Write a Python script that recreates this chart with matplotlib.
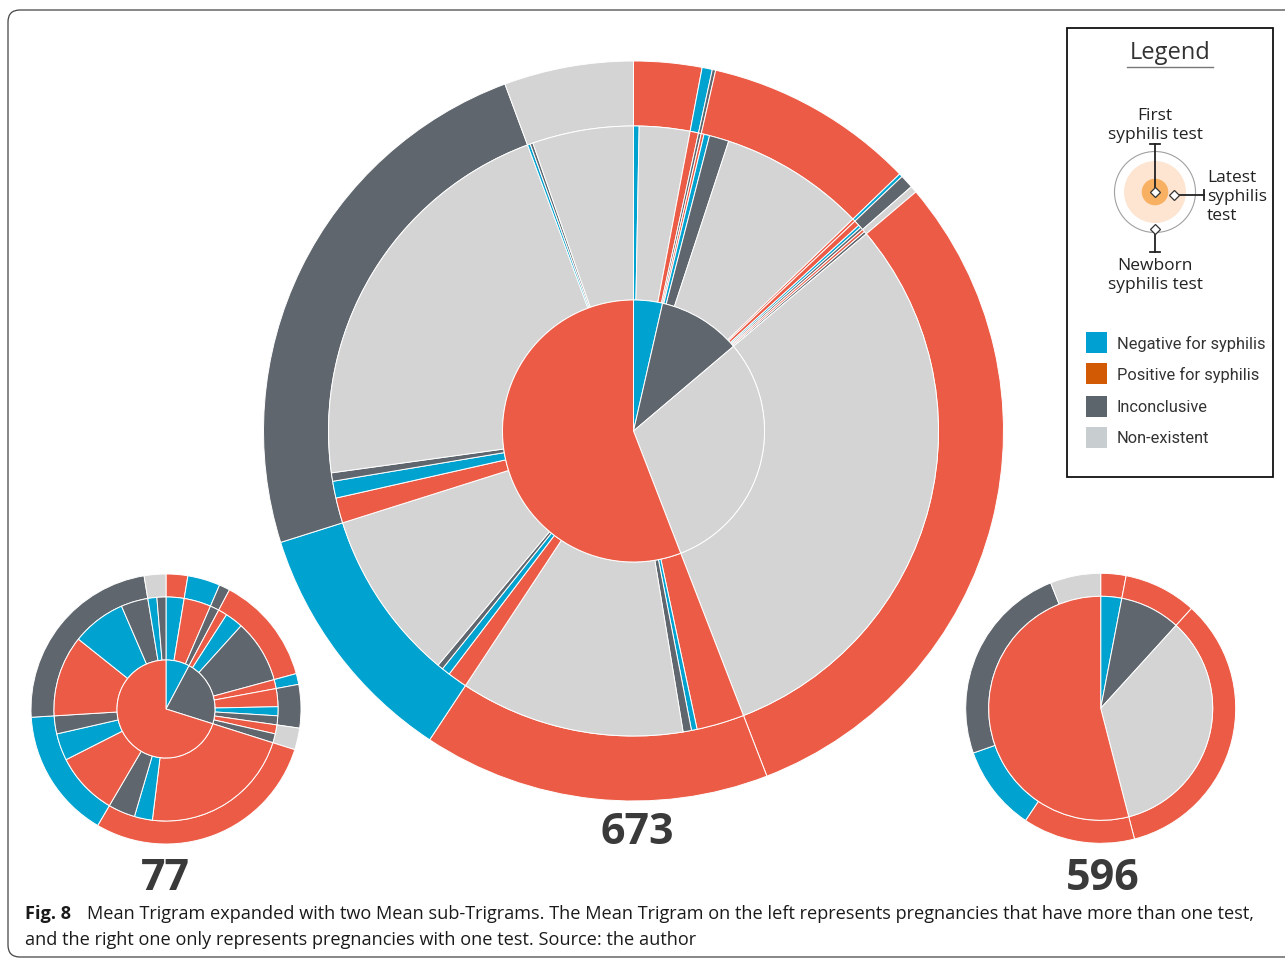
import matplotlib
matplotlib.use('Agg')
import matplotlib.pyplot as plt
from matplotlib.patches import Circle, FancyBboxPatch, Rectangle
from itertools import groupby

plt.rcParams['font.family'] = ['Open Sans', 'DejaVu Sans']

# ---------------- data ----------------
# category codes: P = positive, N = negative, I = inconclusive, X = non-existent
CAT_COLORS = {'N': '#00A3D0', 'P': '#EC5B46', 'I': '#5F666D', 'X': '#D4D4D4'}

# Main Mean Trigram (673 pregnancies): leaves = (first test, newborn test, latest test)
main_first   = ['N','N','N','N', 'I','I','I','I','I','I','I','I','I','I', 'X',
                'P','P','P','P','P','P','P','P','P','P','P','P','P','P','P']
main_newborn = ['P','P','N','I', 'P','P','P','P','N','I','I','I','X','X', 'P',
                'P','P','P','P','N','N','N','N','I','I','I','I','X','X','X']
main_latest  = ['N','X','P','I', 'P','N','I','X','P','P','N','I','P','I', 'X',
                'P','N','I','X','P','N','I','X','P','N','I','X','N','I','X']
main_count   = [2, 18, 3, 1, 1, 2, 7, 52, 1, 2, 1, 1, 1, 1, 204,
                17, 2, 3, 80, 7, 3, 2, 61, 9, 6, 3, 145, 1, 1, 36]

# Left sub-trigram (77 pregnancies with more than one test)
left_first   = ['N','N','N', 'I','I','I','I','I','I','I','I','I',
                'P','P','P','P','P','P','P','P','P','P','P']
left_newborn = ['P','N','I', 'P','P','P','N','I','I','I','X','X',
                'P','P','P','N','N','N','I','I','I','X','X']
left_latest  = ['N','P','I', 'P','N','I','P','P','N','I','P','I',
                'P','N','I','P','N','I','P','N','I','N','I']
left_count   = [2, 3, 1, 1, 2, 7, 1, 2, 1, 1, 1, 1,
                17, 2, 3, 7, 3, 2, 9, 6, 3, 1, 1]

# Right sub-trigram (596 pregnancies with only one test)
right_first   = ['N', 'I', 'X', 'P', 'P', 'P', 'P']
right_newborn = ['P', 'P', 'P', 'P', 'N', 'I', 'X']
right_count   = [18, 52, 204, 80, 61, 145, 36]

totals = [673, 77, 596]

legend_labels = ['Negative for syphilis', 'Positive for syphilis', 'Inconclusive', 'Non-existent']
legend_colors = ['#00A0D2', '#D35A05', '#5C646C', '#C8CDD0']

# ---------------- figure ----------------
W, H = 1285, 960
fig = plt.figure(figsize=(W / 100, H / 100), dpi=100)
ax = fig.add_axes([0, 0, 1, 1])


def Y(y):  # image row -> data y
    return H - y


def runs(keys, counts):
    out = []
    for k, grp in groupby(zip(keys, counts), key=lambda t: t[0]):
        out.append((k, sum(c for _, c in grp)))
    return out


def ring(center, keys, counts, r_out, r_in, color_key):
    segs = runs(keys, counts)
    vals = [s[1] for s in segs]
    cols = [CAT_COLORS[color_key(s[0])] for s in segs]
    wp = dict(edgecolor='white', linewidth=0.7)
    if r_in > 0:
        wp['width'] = r_out - r_in
    ax.pie(vals, radius=r_out, center=center, startangle=90,
           counterclock=False, colors=cols, wedgeprops=wp)


def trigram(center, first, newborn, latest, counts, r1, r2, r3):
    idx = list(range(len(counts)))
    ring(center, list(zip(first, newborn)), counts, r3, r2, lambda k: k[1])
    ring(center, list(zip(idx, latest)), counts, r2, r1, lambda k: k[1])
    ring(center, first, counts, r1, 0, lambda k: k)


# main
trigram((633.5, Y(431)), main_first, main_newborn, main_latest, main_count, 131, 305, 370)
# left
trigram((166, Y(709)), left_first, left_newborn, left_latest, left_count, 49, 112, 135)
# right (two rings: first test = only test, newborn)
rc = (1100.7, Y(708.3))
ring(rc, list(zip(right_first, right_newborn)), right_count, 135, 112, lambda k: k[1])
ring(rc, right_first, right_count, 112, 0, lambda k: k)

ax.set_xlim(0, W)
ax.set_ylim(0, H)
ax.set_aspect('equal')
ax.axis('off')

# totals
num_kw = dict(ha='center', va='center', fontsize=31, fontweight='bold',
              color='#3A3A3A', family=['Open Sans', 'DejaVu Sans'])
ax.text(637, Y(832), str(totals[0]), **num_kw)
ax.text(165, Y(879), str(totals[1]), **num_kw)
ax.text(1103, Y(879), str(totals[2]), **num_kw)

# ---------------- legend ----------------
ax.add_patch(Rectangle((1067, Y(477)), 206, 449, fill=False, ec='#111111', lw=1.3))
ax.text(1170, Y(53), 'Legend', ha='center', va='center', fontsize=17, color='#333333')
ax.plot([1127, 1213], [Y(67), Y(67)], color='#777777', lw=1.0)

icx, icy = 1155, 192
ax.add_patch(Circle((icx, Y(icy)), 40.5, fill=False, ec='#A0A0A0', lw=0.8))
ax.add_patch(Circle((icx, Y(icy)), 31, fc='#FDE5D1', ec='none'))
ax.add_patch(Circle((icx, Y(icy)), 13.3, fc='#F8B063', ec='none'))
lc = '#222222'
ax.plot([icx, icx], [Y(icy), Y(144)], color=lc, lw=1.3)
ax.plot([icx - 5, icx + 5], [Y(144), Y(144)], color=lc, lw=1.3)
ax.plot([1178, 1204], [Y(195), Y(195)], color=lc, lw=1.3)
ax.plot([1204, 1204], [Y(190), Y(200)], color=lc, lw=1.3)
ax.plot([icx, icx], [Y(233), Y(252)], color=lc, lw=1.3)
ax.plot([icx - 5, icx + 5], [Y(252), Y(252)], color=lc, lw=1.3)
for (dx, dy) in [(icx, icy), (1174.3, 195), (icx, 229.3)]:
    ax.plot([dx], [Y(dy)], marker='D', ms=5, mfc='white', mec='#333333', mew=0.9)

lab_kw = dict(fontsize=12.5, color='#222222', va='center')
ax.text(icx, Y(116), 'First', ha='center', **lab_kw)
ax.text(icx, Y(135), 'syphilis test', ha='center', **lab_kw)
ax.text(1207, Y(178), 'Latest', ha='left', **lab_kw)
ax.text(1207, Y(197), 'syphilis', ha='left', **lab_kw)
ax.text(1207, Y(216), 'test', ha='left', **lab_kw)
ax.text(icx, Y(266), 'Newborn', ha='center', **lab_kw)
ax.text(icx, Y(285), 'syphilis test', ha='center', **lab_kw)

for i, (lab, col) in enumerate(zip(legend_labels, legend_colors)):
    yc = [342, 373, 406, 437][i]
    ax.add_patch(Rectangle((1086, Y(yc + 10.5)), 20.5, 21, fc=col, ec='none'))
    ax.text(1117, Y(yc + 1.5), lab, ha='left', va='center', fontsize=11.8,
            color='#333333', family=['Roboto', 'DejaVu Sans'])

# ---------------- caption & frame ----------------
cap_kw = dict(fontsize=13.1, color='#1A1A1A', va='center', ha='left')
ax.text(25, Y(914), 'Fig. 8', fontweight='bold', **cap_kw)
ax.text(87, Y(914), 'Mean Trigram expanded with two Mean sub-Trigrams. The Mean Trigram on the left '
        'represents pregnancies that have more than one test,', **cap_kw)
ax.text(25, Y(940), 'and the right one only represents pregnancies with one test. Source: the author',
        **cap_kw)

frame = FancyBboxPatch((8, Y(957)), 1310, 947, boxstyle='round,pad=0,rounding_size=12',
                       fill=False, ec='#444444', lw=0.9, clip_on=True)
ax.add_patch(frame)

fig.savefig('out.png', dpi=100)
